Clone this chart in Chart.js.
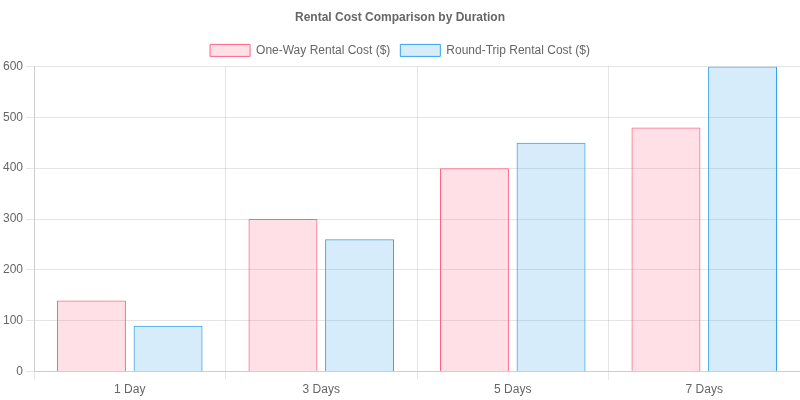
<html>
  <head>
    <script src="https://cdn.jsdelivr.net/npm/chart.js@4.4.0/dist/chart.umd.min.js"></script>
    <style>
      body { margin: 0; background: #fff; }
      #wrap { width: 800px; height: 400px; }
    </style>
  </head>
  <body>
    <div id="wrap"><canvas id="rentalChart"></canvas></div>
    <script>
      var durations = ["1 Day", "3 Days", "5 Days", "7 Days"];
      var oneWayCost = [140, 300, 400, 480];
      var roundTripCost = [90, 260, 450, 600];

      var ctx = document.getElementById("rentalChart").getContext("2d");
      var chart = new Chart(ctx, {
        type: "bar",
        data: {
          labels: durations,
          datasets: [
            {
              label: "One-Way Rental Cost ($)",
              data: oneWayCost,
              backgroundColor: "rgba(255, 99, 132, 0.2)",
              borderColor: "rgb(255, 99, 132)",
              borderWidth: 1,
            },
            {
              label: "Round-Trip Rental Cost ($)",
              data: roundTripCost,
              backgroundColor: "rgba(54, 162, 235, 0.2)",
              borderColor: "rgb(54, 162, 235)",
              borderWidth: 1,
            },
          ],
        },
        options: {
          responsive: true,
          maintainAspectRatio: false,
          animation: false,
          plugins: {
            title: {
              display: true,
              text: "Rental Cost Comparison by Duration",
              color: "#666",
              font: { size: 12, weight: "bold" },
            },
            legend: { labels: { color: "#666" } },
          },
          scales: {
            x: { ticks: { color: "#666" } },
            y: { beginAtZero: true, max: 600, ticks: { color: "#666" } },
          },
        },
      });
    </script>
  </body>
</html>
